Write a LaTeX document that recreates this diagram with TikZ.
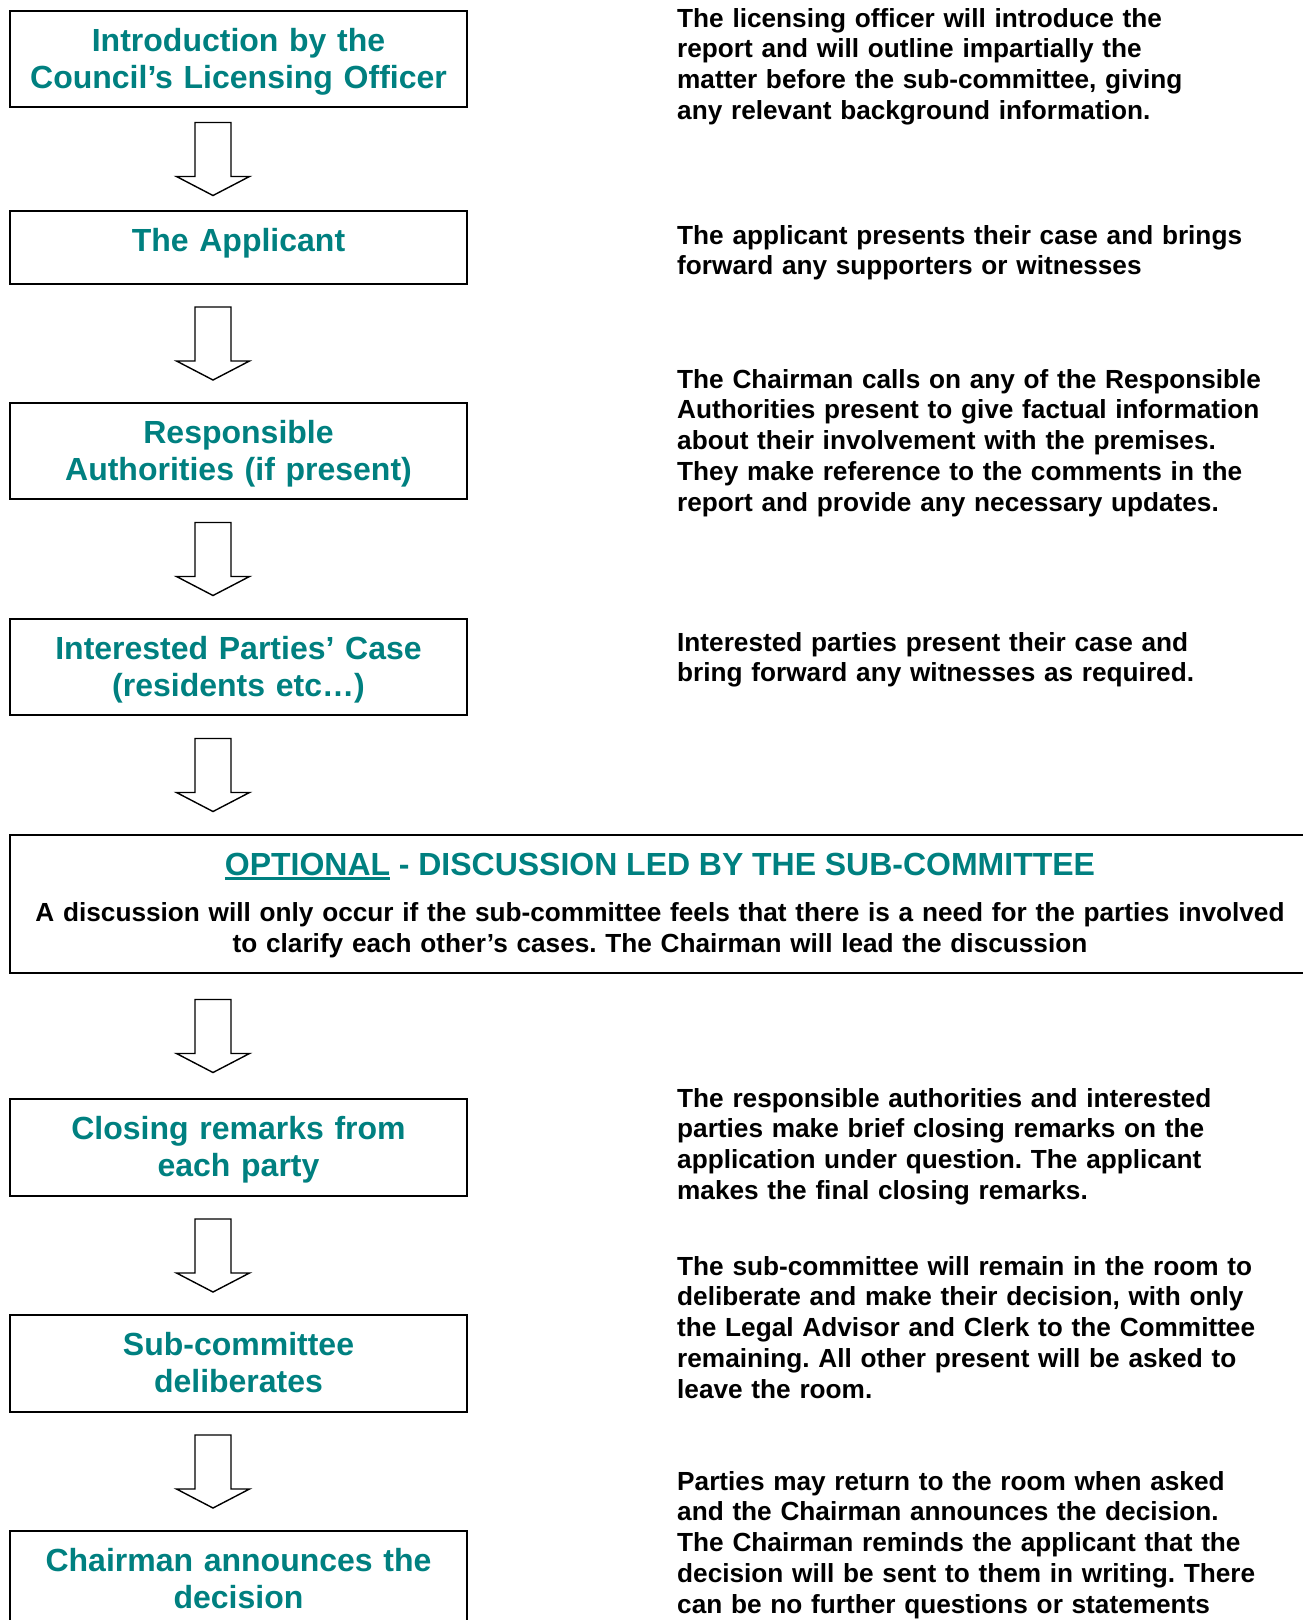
\documentclass[tikz,border=0pt]{standalone}
\usepackage{fontspec}
\setmainfont{Liberation Sans}
\usepackage{tikz}
\usetikzlibrary{calc}
\definecolor{stepteal}{RGB}{0,128,128}

\newcommand{\headfont}{\bfseries\fontsize{32}{37.3}\selectfont}
\newcommand{\notefont}{\bfseries\fontsize{26.2}{30.8}\selectfont}
\newcommand{\optul}[1]{\setbox0\hbox{#1}\rlap{\rule[-5pt]{\wd0}{3pt}}\box0\relax}
\newcommand{\flowarrow}[2]{%
  \coordinate (mm) at ($(#1.south)!.5!(#2.north)$);
  \coordinate (m) at (ax |- mm);
  \draw[arrowline] ($(m)+(-18,-36.5)$) -- ($(m)+(-18,17.5)$) -- ($(m)+(-36.5,17.5)$)
    -- ($(m)+(0,36.5)$) -- ($(m)+(36.5,17.5)$) -- ($(m)+(18,17.5)$)
    -- ($(m)+(18,-36.5)$) -- cycle;}

\tikzset{
  stepbox/.style={draw, line width=2pt, inner sep=0pt, text width=457pt,
    align=center, text height=40pt, text depth=#1, font=\headfont,
    text=stepteal, anchor=north west},
  note/.style={inner sep=0pt, text width=640pt, align=left,
    anchor=base west, font=\notefont},
  arrowline/.style={line width=1.4pt, line join=miter}
}

\begin{document}
\frenchspacing
\begin{tikzpicture}[x=1pt,y=-1pt]
  \useasboundingbox (0,0) rectangle (1303,1620);
  \coordinate (ax) at (213,0);

  % left column
  \node[stepbox=56pt] (b1) at (9,10)   {Introduction by the\\Council’s Licensing Officer};
  \node[stepbox=33pt] (b2) at (9,210)  {The Applicant};
  \node[stepbox=56pt] (b3) at (9,402)  {Responsible\\Authorities (if present)};
  \node[stepbox=56pt] (b4) at (9,618)  {Interested Parties’ Case\\(residents etc…)};
  \node[stepbox=98pt, text width=1300pt, text=black, font=\notefont] (opt) at (9,834)
    {{\headfont\color{stepteal}\optul{OPTIONAL} - DISCUSSION LED BY THE SUB-COMMITTEE\par}\vspace{15.5pt}
     A discussion will only occur if the sub-committee feels that there is a need for the parties involved\\
     to clarify each other’s cases. The Chairman will lead the discussion};
  \node[stepbox=57pt] (b5) at (9,1098) {Closing remarks from\\each party};
  \node[stepbox=57pt] (b6) at (9,1314) {Sub-committee\\deliberates};
  \node[stepbox=56pt] (b7) at (9,1530) {Chairman announces the\\decision};

  \foreach \a/\b in {b1/b2, b2/b3, b3/b4, b4/opt, opt/b5, b5/b6, b6/b7}
    {\flowarrow{\a}{\b}}

  % right column
  \node[note] (n1) at (677,27)   {The licensing officer will introduce the\\
    report and will outline impartially the\\
    matter before the sub-committee, giving\\
    any relevant background information.};
  \node[note] (n2) at (677,244)  {The applicant presents their case and brings\\
    forward any supporters or witnesses};
  \node[note] (n3) at (677,388)  {The Chairman calls on any of the Responsible\\
    Authorities present to give factual information\\
    about their involvement with the premises.\\
    They make reference to the comments in the\\
    report and provide any necessary updates.};
  \node[note] (n4) at (677,651)  {Interested parties present their case and\\
    bring forward any witnesses as required.};
  \node[note] (n5) at (677,1107) {The responsible authorities and interested\\
    parties make brief closing remarks on the\\
    application under question. The applicant\\
    makes the final closing remarks.};
  \node[note] (n6) at (677,1275) {The sub-committee will remain in the room to\\
    deliberate and make their decision, with only\\
    the Legal Advisor and Clerk to the Committee\\
    remaining. All other present will be asked to\\
    leave the room.};
  \node[note] (n7) at (677,1490) {Parties may return to the room when asked\\
    and the Chairman announces the decision.\\
    The Chairman reminds the applicant that the\\
    decision will be sent to them in writing. There\\
    can be no further questions or statements};
\end{tikzpicture}
\end{document}
